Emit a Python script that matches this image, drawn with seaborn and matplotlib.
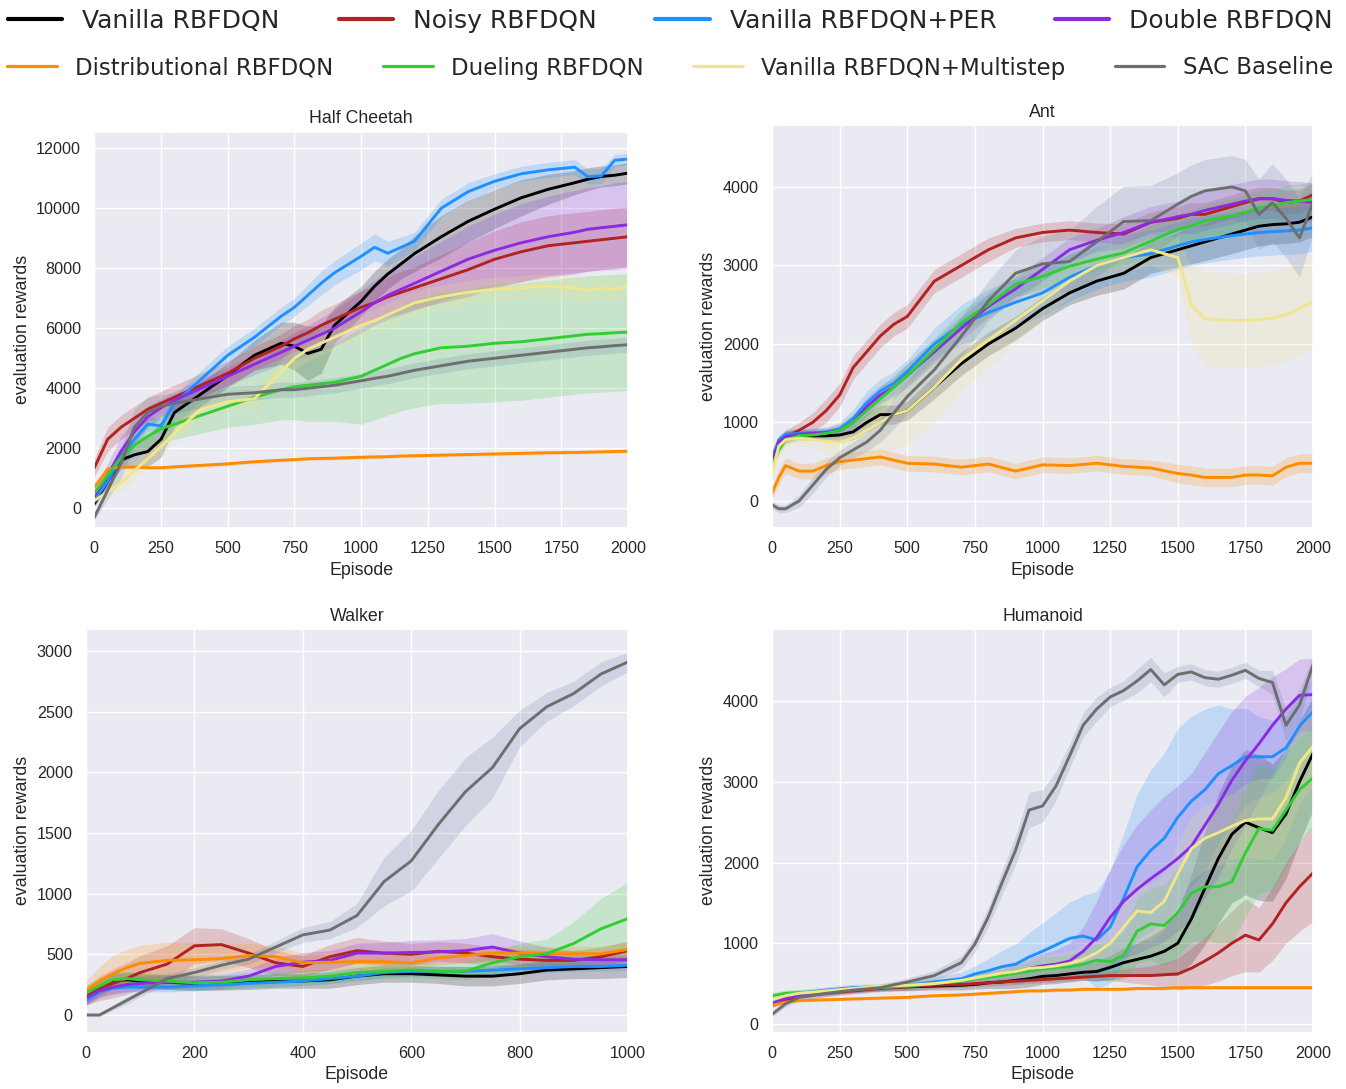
import numpy as np
import pandas as pd
import matplotlib
matplotlib.use('Agg')
import matplotlib.pyplot as plt
from matplotlib.lines import Line2D
import seaborn as sns

methods = ['Vanilla RBFDQN', 'Noisy RBFDQN', 'Vanilla RBFDQN+PER', 'Double RBFDQN',
           'Distributional RBFDQN', 'Dueling RBFDQN', 'Vanilla RBFDQN+Multistep', 'SAC Baseline']
colors = ['black', '#b22222', '#1e90ff', '#8a2be2', '#ff8c00', '#32cd32', '#f0e68c', '#6e6e6e']
# the SAC band reads bluish on the grey background
band_colors = ['black', '#b22222', '#1e90ff', '#8a2be2', '#ff8c00', '#32cd32', '#f0e68c', '#6a7ba2']

# ---------------- Half Cheetah ----------------
hc_ep = [0, 50, 100, 150, 200, 250, 300, 400, 500, 600, 700, 750, 800, 850, 900, 1000,
         1050, 1100, 1150, 1200, 1300, 1400, 1500, 1600, 1700, 1800, 1850, 1900, 1950, 2000]
hc_vanilla = [150, 900, 1610, 1780, 1890, 2300, 3190, 3810, 4430, 5100, 5500, 5400, 5160, 5300, 6100, 6900,
              7400, 7810, 8150, 8490, 9050, 9560, 9970, 10350, 10630, 10850, 10970, 11060, 11100, 11170]
hc_noisy = [1350, 2300, 2700, 3000, 3300, 3500, 3700, 4100, 4500, 5000, 5400, 5650, 5850, 6100, 6300, 6700,
            6850, 7050, 7200, 7350, 7650, 7950, 8300, 8550, 8750, 8850, 8900, 8950, 9000, 9050]
hc_per = [250, 900, 1700, 2300, 2800, 2750, 3500, 4300, 5100, 5700, 6400, 6700, 7100, 7500, 7850, 8400,
          8700, 8500, 8700, 8900, 10000, 10550, 10900, 11150, 11280, 11370, 11050, 11080, 11600, 11640]
hc_double = [400, 1100, 1900, 2550, 3050, 3350, 3600, 4000, 4400, 4800, 5200, 5400, 5600, 5800, 6000, 6550,
             6850, 7100, 7300, 7500, 7900, 8300, 8600, 8850, 9050, 9200, 9300, 9350, 9400, 9450]
hc_distrib = [700, 1300, 1380, 1370, 1350, 1350, 1380, 1430, 1480, 1550, 1600, 1620, 1650, 1660, 1670, 1700,
              1710, 1720, 1740, 1750, 1770, 1790, 1810, 1830, 1850, 1860, 1870, 1880, 1890, 1900]
hc_dueling = [500, 1100, 1700, 2100, 2400, 2650, 2800, 3100, 3400, 3700, 3950, 4050, 4100, 4150, 4200, 4400,
              4600, 4800, 5000, 5150, 5350, 5400, 5500, 5550, 5650, 5750, 5800, 5820, 5850, 5870]
hc_multistep = [250, 550, 850, 1250, 1650, 2050, 2500, 3300, 3550, 3650, 4550, 5000, 5300, 5500, 5700, 6100,
                6250, 6450, 6650, 6850, 7050, 7200, 7300, 7350, 7400, 7350, 7250, 7350, 7300, 7400]
hc_sac = [-300, 600, 1500, 2700, 3200, 3400, 3500, 3650, 3800, 3850, 3950, 3950, 4000, 4050, 4100, 4250,
          4330, 4400, 4500, 4600, 4750, 4900, 5000, 5100, 5200, 5300, 5350, 5380, 5420, 5450]

hc_vanilla_sd = [100, 200, 300, 400, 500, 600, 500, 400, 400, 500, 700, 800, 900, 800, 600, 500,
                 500, 500, 500, 600, 700, 700, 650, 600, 500, 400, 380, 350, 350, 350]
hc_noisy_sd = [300, 400, 400, 400, 400, 400, 400, 400, 400, 400, 400, 450, 450, 500, 500, 550,
               600, 650, 700, 700, 800, 900, 950, 1000, 1000, 1000, 1000, 1000, 1000, 1000]
hc_per_sd = [150, 200, 250, 250, 250, 250, 250, 300, 300, 300, 300, 300, 350, 400, 400, 450,
             450, 400, 350, 300, 300, 300, 250, 250, 250, 250, 250, 250, 200, 200]
hc_double_sd = [300, 400, 500, 400, 350, 300, 300, 300, 300, 350, 400, 450, 500, 550, 600, 700,
                750, 800, 850, 900, 1000, 1100, 1200, 1300, 1350, 1400, 1400, 1400, 1450, 1450]
hc_distrib_sd = [60, 60, 60, 60, 60, 60, 60, 60, 60, 60, 60, 60, 60, 60, 60, 60,
                 60, 60, 60, 60, 60, 60, 60, 60, 60, 60, 60, 60, 60, 60]
hc_dueling_sd = [100, 200, 300, 350, 400, 450, 500, 600, 700, 900, 1000, 1100, 1200, 1250, 1300, 1600,
                 1650, 1700, 1750, 1800, 1850, 1900, 1950, 1950, 1950, 1950, 1950, 1950, 1950, 1950]
hc_multistep_sd = [150, 200, 300, 300, 300, 300, 300, 300, 300, 350, 400, 400, 400, 400, 400, 400,
                   400, 400, 400, 400, 400, 400, 400, 400, 400, 400, 400, 400, 400, 400]
hc_sac_sd = [100, 300, 500, 600, 500, 400, 350, 300, 250, 250, 250, 250, 250, 250, 250, 250,
             250, 250, 250, 250, 250, 250, 250, 250, 250, 250, 250, 250, 250, 250]

# ---------------- Ant ----------------
ant_ep = [0, 25, 50, 100, 150, 200, 250, 300, 350, 400, 450, 500, 600, 700, 800, 900, 1000,
          1100, 1200, 1300, 1400, 1500, 1550, 1600, 1700, 1750, 1800, 1850, 1900, 1950, 2000]
ant_vanilla = [500, 750, 830, 850, 830, 830, 840, 880, 1000, 1100, 1100, 1150, 1450, 1750, 2000, 2200, 2450,
               2650, 2800, 2900, 3100, 3200, 3250, 3300, 3400, 3450, 3500, 3520, 3530, 3550, 3620]
ant_noisy = [500, 700, 820, 900, 1000, 1150, 1350, 1700, 1900, 2100, 2250, 2350, 2800, 3000, 3200, 3350, 3420,
             3450, 3420, 3400, 3550, 3600, 3650, 3650, 3750, 3800, 3850, 3850, 3800, 3820, 3900]
ant_per = [550, 780, 850, 860, 870, 880, 920, 1050, 1250, 1400, 1500, 1650, 2000, 2250, 2400, 2530, 2650,
           2850, 3000, 3100, 3150, 3250, 3300, 3330, 3380, 3400, 3420, 3430, 3440, 3450, 3480]
ant_double = [500, 750, 820, 850, 860, 870, 900, 1000, 1200, 1350, 1450, 1600, 1900, 2200, 2480, 2700, 2950,
              3200, 3320, 3420, 3550, 3620, 3650, 3700, 3780, 3820, 3850, 3850, 3830, 3820, 3800]
ant_distrib = [100, 300, 450, 380, 380, 450, 500, 520, 540, 560, 520, 480, 470, 430, 470, 380, 460,
               450, 480, 440, 420, 350, 330, 300, 300, 330, 330, 320, 430, 480, 480]
ant_dueling = [450, 650, 780, 830, 840, 860, 900, 1000, 1150, 1300, 1450, 1600, 1930, 2270, 2500, 2760, 2860,
               2990, 3080, 3160, 3310, 3460, 3500, 3570, 3630, 3680, 3735, 3760, 3800, 3820, 3840]
ant_multistep = [350, 700, 780, 800, 780, 760, 750, 800, 900, 1000, 1100, 1150, 1450, 1800, 2050, 2300, 2550,
                 2800, 3000, 3100, 3200, 3100, 2500, 2320, 2300, 2300, 2310, 2330, 2370, 2450, 2540]
ant_sac = [-50, -100, -100, 0, 200, 400, 550, 650, 750, 900, 1120, 1330, 1670, 2100, 2550, 2900, 3020,
           3050, 3300, 3560, 3570, 3780, 3880, 3950, 4000, 3950, 3650, 3800, 3600, 3350, 3800]

ant_vanilla_sd = [50, 60, 60, 60, 60, 60, 80, 100, 120, 120, 120, 120, 150, 150, 150, 150, 150,
                  150, 180, 200, 200, 220, 230, 240, 250, 250, 250, 250, 250, 250, 250]
ant_noisy_sd = [50, 60, 80, 100, 120, 150, 150, 150, 150, 150, 150, 150, 150, 150, 150, 120, 120,
                120, 120, 130, 130, 150, 150, 150, 150, 150, 150, 150, 150, 150, 150]
ant_per_sd = [50, 60, 60, 60, 60, 60, 80, 120, 150, 150, 150, 150, 200, 250, 300, 300, 300,
              300, 300, 300, 300, 300, 300, 300, 300, 300, 300, 300, 300, 300, 300]
ant_double_sd = [50, 60, 60, 60, 60, 60, 80, 100, 120, 120, 120, 150, 150, 150, 150, 150, 150,
                 150, 150, 200, 200, 200, 250, 250, 250, 250, 250, 250, 250, 250, 250]
ant_distrib_sd = [80, 100, 100, 100, 100, 100, 100, 100, 100, 100, 100, 100, 100, 100, 100, 100, 100,
                  100, 100, 100, 100, 120, 120, 120, 120, 120, 120, 120, 120, 120, 120]
ant_dueling_sd = [60, 60, 60, 60, 60, 60, 80, 100, 120, 150, 150, 150, 150, 150, 150, 150, 150,
                  150, 150, 150, 200, 200, 200, 200, 220, 220, 220, 220, 220, 220, 220]
ant_multistep_sd = [100, 150, 100, 100, 100, 150, 250, 300, 350, 400, 450, 450, 450, 400, 350, 300, 250,
                    200, 200, 200, 200, 250, 500, 600, 600, 600, 600, 600, 600, 600, 600]
ant_sac_sd = [50, 50, 50, 80, 100, 100, 100, 100, 120, 150, 200, 200, 250, 250, 250, 300, 350,
              400, 450, 450, 450, 400, 400, 400, 400, 400, 450, 500, 500, 500, 400]

# ---------------- Walker (no Multistep curve visible) ----------------
wk_ep = [0, 25, 50, 75, 100, 150, 200, 250, 300, 350, 400, 450, 500, 550, 600, 650, 700,
         750, 800, 850, 900, 950, 1000]
wk_vanilla = [150, 220, 280, 290, 280, 270, 260, 265, 270, 280, 280, 290, 320, 340, 340, 330, 320,
              320, 340, 370, 380, 390, 400]
wk_noisy = [160, 220, 260, 300, 350, 420, 570, 580, 510, 430, 400, 480, 530, 510, 500, 525, 510,
            480, 460, 450, 450, 480, 530]
wk_per = [120, 190, 220, 230, 230, 230, 240, 250, 260, 270, 280, 300, 320, 350, 360, 360, 360,
          370, 380, 390, 400, 400, 410]
wk_double = [140, 200, 230, 250, 260, 270, 270, 280, 320, 400, 435, 450, 510, 510, 515, 520, 530,
             560, 510, 480, 460, 455, 455]
wk_distrib = [200, 280, 340, 390, 425, 450, 455, 465, 490, 480, 430, 435, 440, 440, 430, 470, 490,
              510, 510, 505, 505, 505, 540]
wk_dueling = [180, 240, 290, 300, 290, 280, 265, 270, 290, 300, 305, 320, 350, 360, 370, 360, 360,
              430, 480, 505, 590, 710, 795]
wk_sac = [0, 0, 60, 120, 180, 300, 350, 410, 460, 560, 660, 700, 820, 1100, 1270, 1570, 1840,
          2040, 2360, 2540, 2650, 2810, 2910]

wk_vanilla_sd = [60, 60, 60, 60, 60, 60, 60, 60, 60, 60, 60, 70, 70, 70, 70, 70, 80,
                 80, 80, 80, 80, 90, 90]
wk_noisy_sd = [80, 100, 120, 130, 140, 150, 150, 130, 120, 100, 90, 100, 110, 100, 90, 80, 80,
               80, 80, 80, 80, 80, 80]
wk_per_sd = [40, 40, 40, 40, 40, 40, 40, 40, 40, 40, 40, 40, 40, 40, 40, 40, 40,
             40, 40, 40, 40, 40, 40]
wk_double_sd = [60, 60, 60, 60, 60, 60, 60, 60, 60, 70, 80, 80, 80, 90, 100, 100, 100,
                110, 100, 80, 70, 60, 60]
wk_distrib_sd = [80, 120, 150, 150, 150, 150, 140, 120, 100, 90, 80, 70, 60, 60, 60, 60, 60,
                 60, 60, 60, 60, 60, 60]
wk_dueling_sd = [60, 60, 60, 60, 60, 60, 60, 60, 60, 60, 60, 60, 60, 60, 60, 60, 70,
                 90, 110, 120, 180, 250, 300]
wk_sac_sd = [10, 10, 20, 30, 30, 40, 40, 40, 40, 50, 60, 70, 100, 200, 250, 280, 280,
             250, 150, 120, 100, 100, 80]

# ---------------- Humanoid ----------------
hm_ep = [0, 50, 100, 200, 300, 400, 500, 600, 700, 750, 800, 850, 900, 950, 1000, 1050, 1100, 1150,
         1200, 1250, 1300, 1350, 1400, 1450, 1500, 1550, 1600, 1650, 1700, 1750, 1800, 1850, 1900, 1950, 2000]
hm_vanilla = [250, 320, 370, 400, 430, 450, 460, 470, 480, 490, 510, 520, 540, 560, 590, 600, 620, 640,
              650, 700, 760, 800, 840, 900, 1000, 1300, 1680, 2050, 2350, 2500, 2430, 2370, 2600, 3000, 3350]
hm_noisy = [250, 300, 340, 380, 410, 440, 460, 480, 490, 500, 510, 520, 530, 540, 550, 560, 570, 580,
            590, 600, 600, 600, 600, 610, 620, 690, 780, 880, 1000, 1100, 1040, 1240, 1500, 1700, 1870]
hm_per = [280, 350, 380, 420, 450, 460, 480, 520, 560, 620, 660, 710, 740, 830, 900, 980, 1060, 1090,
          1040, 1200, 1560, 1950, 2150, 2300, 2560, 2760, 2900, 3100, 3200, 3310, 3310, 3310, 3420, 3690, 3870]
hm_double = [250, 320, 360, 400, 430, 450, 470, 500, 530, 560, 590, 620, 650, 690, 720, 740, 780, 900,
             1070, 1320, 1520, 1670, 1800, 1920, 2050, 2200, 2460, 2720, 3020, 3260, 3470, 3700, 3900, 4070, 4080]
hm_distrib = [230, 270, 290, 300, 310, 320, 330, 350, 360, 370, 380, 390, 400, 410, 410, 420, 420, 430,
              430, 430, 430, 440, 440, 440, 450, 450, 450, 450, 450, 450, 450, 450, 450, 450, 450]
hm_dueling = [350, 380, 390, 400, 430, 450, 470, 500, 530, 560, 580, 600, 630, 650, 680, 700, 710, 740,
              790, 770, 850, 1150, 1240, 1220, 1380, 1620, 1700, 1700, 1760, 2120, 2420, 2400, 2650, 2900, 3050]
hm_multistep = [300, 350, 380, 410, 440, 470, 480, 500, 540, 570, 600, 630, 650, 690, 700, 720, 750, 800,
                880, 1000, 1200, 1400, 1380, 1520, 1860, 2170, 2300, 2370, 2450, 2520, 2540, 2540, 2800, 3230, 3440]
hm_sac = [120, 250, 330, 380, 420, 450, 520, 600, 760, 990, 1330, 1750, 2150, 2650, 2700, 2950, 3320, 3700,
          3900, 4050, 4130, 4250, 4390, 4200, 4330, 4360, 4290, 4270, 4320, 4380, 4280, 4230, 3700, 3950, 4450]

hm_vanilla_sd = [40, 40, 40, 40, 40, 40, 50, 50, 60, 60, 70, 80, 100, 100, 100, 100, 100, 100,
                 120, 150, 180, 200, 250, 300, 400, 550, 700, 800, 850, 900, 900, 850, 800, 750, 700]
hm_noisy_sd = [40, 40, 40, 40, 40, 40, 40, 40, 40, 40, 40, 40, 40, 40, 40, 40, 40, 40,
               50, 60, 80, 100, 120, 150, 200, 250, 300, 350, 400, 450, 400, 450, 500, 550, 600]
hm_per_sd = [40, 40, 40, 40, 40, 40, 50, 60, 80, 100, 150, 200, 250, 300, 350, 400, 450, 500,
             600, 700, 800, 900, 1000, 1050, 1100, 1050, 1000, 850, 700, 600, 500, 450, 400, 400, 400]
hm_double_sd = [40, 40, 40, 40, 40, 40, 50, 50, 60, 60, 70, 80, 100, 120, 150, 180, 220, 300,
                450, 600, 700, 800, 850, 900, 900, 900, 900, 900, 850, 800, 700, 600, 500, 450, 450]
hm_distrib_sd = [20, 20, 20, 20, 20, 20, 20, 20, 20, 20, 20, 20, 20, 20, 20, 20, 20, 20,
                 20, 20, 20, 20, 20, 20, 20, 20, 20, 20, 20, 20, 20, 20, 20, 20, 20]
hm_dueling_sd = [40, 40, 40, 40, 40, 40, 50, 50, 60, 60, 70, 80, 100, 120, 150, 150, 150, 180,
                 200, 250, 300, 400, 450, 500, 550, 600, 650, 700, 750, 800, 800, 750, 700, 650, 600]
hm_multistep_sd = [40, 40, 40, 40, 40, 40, 50, 50, 60, 60, 70, 80, 100, 120, 150, 150, 150, 180,
                   200, 250, 300, 350, 350, 350, 400, 400, 400, 400, 400, 450, 500, 500, 500, 500, 500]
hm_sac_sd = [30, 40, 40, 40, 40, 40, 50, 60, 80, 100, 120, 150, 180, 220, 200, 180, 150, 150,
             150, 120, 120, 150, 150, 150, 100, 100, 100, 100, 100, 100, 100, 150, 200, 200, 100]


def draw_panel(ax, ep, series, sds, title, xticks, yticks, ylim, xlim):
    ep = np.array(ep)
    names, pal, frames = [], [], []
    for name, vals, sd, c, bc in zip(methods, series, sds, colors, band_colors):
        if vals is None:
            continue
        m = np.array(vals, dtype=float)
        s = np.array(sd, dtype=float)
        ax.fill_between(ep, m - s, m + s, color=bc, alpha=0.2, lw=0, zorder=1)
        frames.append(pd.DataFrame({'Episode': ep, 'reward': m, 'method': name}))
        names.append(name)
        pal.append(c)
    df = pd.concat(frames, ignore_index=True)
    sns.lineplot(data=df, x='Episode', y='reward', hue='method', hue_order=names,
                 palette=pal, linewidth=2.1, errorbar=None, legend=False, ax=ax, zorder=2)
    ax.set_title(title, fontsize=12.8)
    ax.set_xlabel('Episode', fontsize=12.8)
    ax.set_ylabel('evaluation rewards', fontsize=12.8)
    ax.set_xticks(xticks)
    ax.set_yticks(yticks)
    ax.set_xlim(xlim)
    ax.set_ylim(ylim)
    ax.tick_params(labelsize=11.6)


sns.set_theme(style='darkgrid')
plt.rcParams['font.family'] = ['Liberation Sans', 'DejaVu Sans']

fig = plt.figure(figsize=(13.46, 10.89), dpi=100)
ax_hc = fig.add_axes([0.0701, 0.5152, 0.3965, 0.3639])
ax_ant = fig.add_axes([0.5736, 0.5152, 0.4019, 0.3701])
ax_wk = fig.add_axes([0.0639, 0.0517, 0.4027, 0.3707])
ax_hm = fig.add_axes([0.5736, 0.0517, 0.4019, 0.3707])

draw_panel(ax_hc, hc_ep,
           [hc_vanilla, hc_noisy, hc_per, hc_double, hc_distrib, hc_dueling, hc_multistep, hc_sac],
           [hc_vanilla_sd, hc_noisy_sd, hc_per_sd, hc_double_sd, hc_distrib_sd, hc_dueling_sd, hc_multistep_sd, hc_sac_sd],
           'Half Cheetah', range(0, 2001, 250), range(0, 12001, 2000), (-657, 12553), (0, 2000))
draw_panel(ax_ant, ant_ep,
           [ant_vanilla, ant_noisy, ant_per, ant_double, ant_distrib, ant_dueling, ant_multistep, ant_sac],
           [ant_vanilla_sd, ant_noisy_sd, ant_per_sd, ant_double_sd, ant_distrib_sd, ant_dueling_sd, ant_multistep_sd, ant_sac_sd],
           'Ant', range(0, 2001, 250), range(0, 4001, 1000), (-344, 4790), (0, 2000))
draw_panel(ax_wk, wk_ep,
           [wk_vanilla, wk_noisy, wk_per, wk_double, wk_distrib, wk_dueling, None, wk_sac],
           [wk_vanilla_sd, wk_noisy_sd, wk_per_sd, wk_double_sd, wk_distrib_sd, wk_dueling_sd, None, wk_sac_sd],
           'Walker', range(0, 1001, 200), range(0, 3001, 500), (-146, 3181), (0, 1000))
draw_panel(ax_hm, hm_ep,
           [hm_vanilla, hm_noisy, hm_per, hm_double, hm_distrib, hm_dueling, hm_multistep, hm_sac],
           [hm_vanilla_sd, hm_noisy_sd, hm_per_sd, hm_double_sd, hm_distrib_sd, hm_dueling_sd, hm_multistep_sd, hm_sac_sd],
           'Humanoid', range(0, 2001, 250), range(0, 4001, 1000), (-108, 4892), (0, 2000))

W, H = 1346, 1089
h1 = [Line2D([], [], color=c, lw=3) for c in colors[:4]]
fig.legend(h1, methods[:4], loc='center', bbox_to_anchor=(8 / W, 1 - 32 / H, 1325 / W, 22 / H),
           mode='expand', ncol=4, frameon=False, prop={'family': 'DejaVu Sans', 'size': 18},
           handlelength=2.17, borderaxespad=0, borderpad=0)
h2 = [Line2D([], [], color=c, lw=2.3) for c in colors[4:]]
fig.legend(h2, methods[4:], loc='center', bbox_to_anchor=(7 / W, 1 - 79 / H, 1326 / W, 22 / H),
           mode='expand', ncol=4, frameon=False, prop={'family': 'DejaVu Sans', 'size': 16.5},
           handlelength=2.17, borderaxespad=0, borderpad=0)

fig.savefig('out.png', dpi=100)
